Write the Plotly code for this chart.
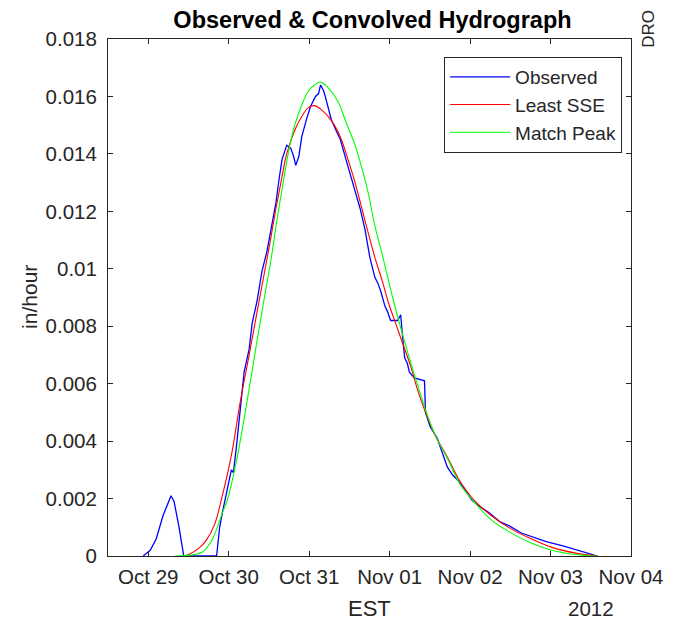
import plotly.graph_objects as go
import pandas as pd

# Hours after 2012-10-29 00:00 (EST) and rates in in/hour
obs_hours = [-1.5, 0.6, 2.4, 4.4, 6.8, 7.7, 9.2, 10.6, 20.4, 21.3, 22.1, 23.0, 23.9, 24.8,
             25.4, 26.3, 27.5, 28.6, 30.1, 31.0, 32.5, 33.9, 35.4, 36.6, 38.1, 39.0, 39.9,
             41.3, 42.5, 43.4, 44.0, 44.9, 45.8, 47.2, 48.4, 49.9, 50.8, 51.4, 52.3, 52.8,
             54.6, 56.1, 57.3, 59.0, 60.2, 61.7, 63.2, 64.6, 66.1, 67.6, 68.5, 69.4, 70.6,
             71.4, 72.3, 74.4, 75.3, 75.9, 76.5, 77.3, 77.9, 79.4, 82.4, 82.7, 84.1, 86.2,
             87.7, 89.2, 90.9, 92.7, 94.5, 96.5, 99.2, 101.8, 104.8, 107.7, 111.3, 114.8,
             118.7, 123.7, 129.6, 134.0]
obs_vals = [0, 0.0002, 0.0006, 0.0014, 0.0021, 0.0019, 0.0010, 0.0, 0.0, 0.0010, 0.0015,
            0.00195, 0.0025, 0.0030, 0.0029, 0.0038, 0.0052, 0.0064, 0.0072, 0.0081, 0.0089,
            0.0099, 0.0106, 0.0113, 0.0123, 0.0131, 0.0138, 0.0143, 0.0142, 0.0139, 0.0136,
            0.0139, 0.0146, 0.0152, 0.01565, 0.0160, 0.0161, 0.0164, 0.0162, 0.0160, 0.0152,
            0.0148, 0.0145, 0.0138, 0.0133, 0.01275, 0.0121, 0.0114, 0.0104, 0.0097, 0.0095,
            0.0092, 0.0087, 0.0085, 0.0082, 0.0082, 0.0084, 0.0076, 0.0069, 0.0067, 0.0064,
            0.0062, 0.0061, 0.0050, 0.0045, 0.0041, 0.0036, 0.0031, 0.0028, 0.0026, 0.0023,
            0.00195, 0.0017, 0.0015, 0.0012, 0.00105, 0.0008, 0.00066, 0.0005, 0.00035,
            0.00014, 0.0]

sse_hours = [10.6, 12.4, 15.4, 17.4, 19.8, 21.8, 24.8, 27.5, 30.1, 33.1, 36.0, 38.1, 39.9,
             41.3, 44.0, 46.3, 47.8, 49.6, 51.4, 53.7, 55.8, 57.6, 59.6, 61.7, 63.5, 65.5,
             67.6, 70.0, 71.7, 73.8, 75.9, 78.3, 80.3, 82.4, 85.6, 89.2, 93.0, 97.1, 102.4,
             107.7, 114.2, 120.4, 127.5, 134.0]
sse_vals = [0, 0.00007, 0.0003, 0.00056, 0.0011, 0.00195, 0.0035, 0.0054, 0.0070, 0.0089,
            0.0107, 0.0121, 0.0132, 0.0140, 0.0149, 0.0154, 0.01562, 0.01568, 0.01556, 0.0153,
            0.01495, 0.0145, 0.0138, 0.0130, 0.0122, 0.0113, 0.0104, 0.0095, 0.0088, 0.0081,
            0.0074, 0.0066, 0.0058, 0.0051, 0.0042, 0.00345, 0.0026, 0.00195, 0.0014, 0.00098,
            0.0006, 0.0003, 0.0001, 0.0]

peak_hours = [8.0, 12.4, 16.2, 19.2, 22.1, 23.6, 26.3, 29.5, 31.9, 34.5, 36.6, 38.4, 40.4,
              41.9, 43.7, 45.8, 47.8, 49.6, 51.4, 53.7, 56.7, 59.0, 61.7, 63.5, 65.5, 67.6,
              70.0, 72.9, 75.9, 78.9, 82.4, 85.6, 89.2, 93.0, 97.1, 102.4, 107.7, 114.2,
              120.4, 127.5, 134.0]
peak_vals = [0, 0.00003, 0.00014, 0.0006, 0.0015, 0.00195, 0.0033, 0.0054, 0.0071, 0.0089,
             0.0103, 0.0117, 0.0131, 0.0141, 0.0150, 0.0157, 0.0162, 0.0164, 0.0165, 0.0163,
             0.0158, 0.0151, 0.0143, 0.0136, 0.0127, 0.0115, 0.0104, 0.0090, 0.0077, 0.0065,
             0.0052, 0.0042, 0.0034, 0.0025, 0.0019, 0.00125, 0.00084, 0.00045, 0.0002,
             0.00005, 0.0]

x_ticks = ['2012-10-29', '2012-10-30', '2012-10-31', '2012-11-01', '2012-11-02',
           '2012-11-03', '2012-11-04']
x_labels = ['Oct 29', 'Oct 30', 'Oct 31', 'Nov 01', 'Nov 02', 'Nov 03', 'Nov 04']
y_ticks = [0, 0.002, 0.004, 0.006, 0.008, 0.01, 0.012, 0.014, 0.016, 0.018]
y_labels = ['0', '0.002', '0.004', '0.006', '0.008', '0.01', '0.012', '0.014', '0.016', '0.018']

start = pd.Timestamp('2012-10-29 00:00')


def to_time(hours):
    return start + pd.to_timedelta(hours, unit='h')


FONT = 'Liberation Sans, Arial, Helvetica, sans-serif'
INK = '#262626'

# the page body adds an 8px margin, so the figure is 8px smaller than the window
W, H = 667, 615
PL, PT, PR, PB = 100, 31, 629, 548   # plot area edges in figure pixels
pw, ph = PR - PL, PB - PT

fig = go.Figure()
fig.add_trace(go.Scatter(x=to_time(obs_hours), y=obs_vals, mode='lines', name='Observed',
                         line=dict(color='#0000ff', width=1.3)))
fig.add_trace(go.Scatter(x=to_time(sse_hours), y=sse_vals, mode='lines', name='Least SSE',
                         line=dict(color='#ff0000', width=1.1, shape='spline')))
fig.add_trace(go.Scatter(x=to_time(peak_hours), y=peak_vals, mode='lines', name='Match Peak',
                         line=dict(color='#00ff00', width=1.1, shape='spline')))

fig.update_layout(
    width=W, height=H,
    margin=dict(l=PL, r=W - PR, t=PT, b=H - PB, pad=0),
    paper_bgcolor='white', plot_bgcolor='white',
    font=dict(family=FONT, size=20, color=INK),
    title=dict(text='<b>Observed & Convolved Hydrograph</b>', x=(PL + PR) / 2 / W,
               xanchor='center', y=1 - 12 / H, yanchor='middle',
               font=dict(size=23.5, color='black')),
    showlegend=True,
    legend=dict(x=(628 - 108) / pw, y=(556 - 57) / ph, xanchor='right', yanchor='top',
                bordercolor=INK, borderwidth=1, bgcolor='white', itemwidth=60,
                font=dict(size=19, color=INK), tracegroupgap=0),
    xaxis=dict(range=['2012-10-28 12:00', '2012-11-04 00:00'],
               tickvals=x_ticks, ticktext=x_labels,
               showgrid=False, zeroline=False, showline=True, linecolor=INK, linewidth=1,
               mirror='ticks', ticks='inside', ticklen=5, tickcolor=INK,
               ticklabelstandoff=2, tickfont=dict(size=20.5, color=INK)),
    yaxis=dict(range=[0, 0.018], tickvals=y_ticks, ticktext=y_labels,
               showgrid=False, zeroline=False, showline=True, linecolor=INK, linewidth=1,
               mirror='ticks', ticks='inside', ticklen=5, tickcolor=INK,
               ticklabelstandoff=6, tickfont=dict(size=20.5, color=INK)),
    annotations=[
        dict(text='EST', xref='paper', yref='paper', x=(372 - 108) / pw, y=-52 / ph,
             xanchor='center', yanchor='middle', showarrow=False,
             font=dict(size=22, color=INK)),
        dict(text='2012', xref='paper', yref='paper', x=(597 - 108) / pw, y=-52 / ph,
             xanchor='center', yanchor='middle', showarrow=False,
             font=dict(size=20.5, color=INK)),
        dict(text='in/hour', xref='paper', yref='paper', x=(28 - 108) / pw, y=(556 - 297) / ph,
             xanchor='center', yanchor='middle', textangle=-90, showarrow=False,
             font=dict(size=21, color=INK)),
        dict(text='DRO', xref='paper', yref='paper', x=(654 - 108) / pw,
             y=(556 - 29) / ph, xanchor='center', yanchor='middle', textangle=-90,
             showarrow=False, font=dict(size=17, color=INK)),
    ],
)

fig.write_html('out.html')
